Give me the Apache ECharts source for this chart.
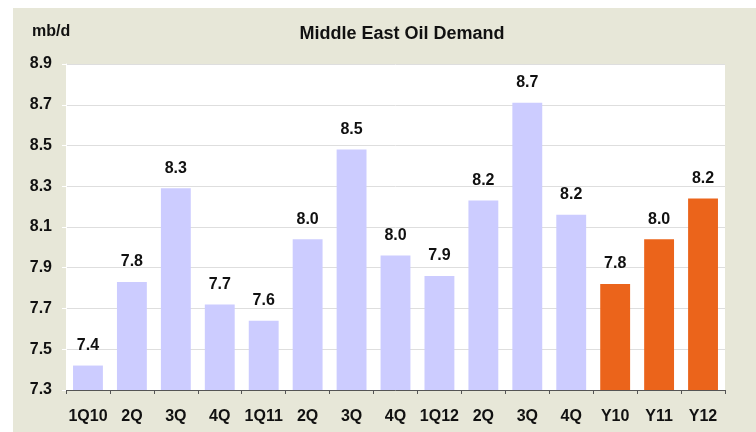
<!DOCTYPE html>
<html>
<head>
<meta charset="utf-8">
<script src="https://cdn.jsdelivr.net/npm/echarts@6/dist/echarts.min.js"></script>
<style>
  html, body { margin: 0; padding: 0; background: #fff; }
  #chart { position: absolute; left: 13px; top: 8px; width: 743px; height: 424px; }
</style>
</head>
<body>
<div id="chart"></div>
<script>
// 数据
const categories = ['1Q10', '2Q', '3Q', '4Q', '1Q11', '2Q', '3Q', '4Q', '1Q12', '2Q', '3Q', '4Q', 'Y10', 'Y11', 'Y12'];
const demand = [7.42, 7.83, 8.29, 7.72, 7.64, 8.04, 8.48, 7.96, 7.86, 8.23, 8.71, 8.16, 7.82, 8.04, 8.24];
const annualIndex = [12, 13, 14]; // 年度柱用橙色
const yTicks = [7.3, 7.5, 7.7, 7.9, 8.1, 8.3, 8.5, 8.7, 8.9];

const lavender = '#CCCCFF';
const orange = '#EB641B';
const fontFamily = 'Liberation Sans, Arial, sans-serif';

document.addEventListener('DOMContentLoaded', () => {
    const chart = echarts.init(document.getElementById('chart'));

    const option = {
        backgroundColor: '#E7E7D8',
        animation: false,
        textStyle: { fontFamily: fontFamily },
        graphic: [
            {
                type: 'text', left: 19, top: 16,
                style: { text: 'mb/d', font: 'bold 16px ' + fontFamily, fill: '#111' }
            },
            {
                type: 'text', x: 389, y: 26,
                style: {
                    text: 'Middle East Oil Demand', font: 'bold 18px ' + fontFamily,
                    fill: '#111', align: 'center', verticalAlign: 'middle'
                }
            }
        ],
        grid: {
            left: 53, right: 31, top: 56, bottom: 42,
            show: true, backgroundColor: '#fff', borderWidth: 0
        },
        xAxis: {
            type: 'category',
            data: categories,
            axisLine: { lineStyle: { color: '#555', width: 1 } },
            axisTick: { show: true, length: 4, lineStyle: { color: '#555' } },
            axisLabel: { interval: 0, color: '#111', fontWeight: 'bold', fontSize: 16, margin: 19 },
            splitLine: { show: false }
        },
        yAxis: {
            type: 'value',
            min: 7.3,
            max: 8.9,
            axisLine: { show: true, lineStyle: { color: '#fff', width: 1 } },
            axisTick: { show: true, length: 4, customValues: yTicks, lineStyle: { color: '#fff' } },
            axisLabel: {
                customValues: yTicks,
                color: '#111', fontWeight: 'bold', fontSize: 16, margin: 14,
                formatter: v => v.toFixed(1)
            },
            splitLine: { show: true, lineStyle: { color: '#DEDEDE', width: 1 } }
        },
        series: [
            {
                type: 'bar',
                barCategoryGap: '32%',
                data: demand.map((v, i) => ({
                    value: v,
                    itemStyle: { color: annualIndex.includes(i) ? orange : lavender }
                })),
                label: {
                    show: true,
                    position: 'top',
                    distance: 12,
                    color: '#111',
                    fontWeight: 'bold',
                    fontSize: 16,
                    formatter: p => p.value.toFixed(1)
                }
            }
        ]
    };

    chart.setOption(option);
});
</script>
</body>
</html>
